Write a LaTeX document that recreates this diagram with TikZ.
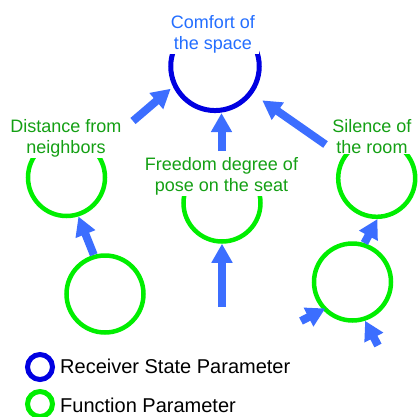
\documentclass[tikz,border=0pt]{standalone}
\usepackage{fontspec}
\setmainfont{Liberation Sans}
\usetikzlibrary{arrows.meta}
\definecolor{arrowblue}{RGB}{60,110,255}
\definecolor{labelblue}{RGB}{35,110,255}
\definecolor{ringblue}{RGB}{0,0,225}
\definecolor{ringgreen}{RGB}{0,238,0}
\definecolor{labelgreen}{RGB}{20,160,20}

\begin{document}
\begin{tikzpicture}[x=1pt,y=-1pt,
  recv/.style={circle,draw=ringblue,line width=5pt,minimum size=88.5pt,inner sep=0pt},
  func/.style={circle,draw=ringgreen,line width=4.5pt,minimum size=77pt,inner sep=0pt},
  lbl/.style={fill=white,align=center,font=\fontsize{18}{21}\selectfont,
              inner xsep=4pt,inner ysep=1pt,anchor=north},
  arr/.style={color=arrowblue,line width=8pt,-{Triangle[length=19pt,width=20pt]}},
  key/.style={circle,line width=5pt,minimum size=25pt,inner sep=0pt},
  keytext/.style={anchor=base west,font=\fontsize{20}{24}\selectfont,inner sep=0pt}]
\useasboundingbox (0,0) rectangle (418,416);

% parameter rings
\node[recv] (comfort) at (215,66.3) {};
\node[func] (distcirc) at (66.5,177.5) {};
\node[func] (freecirc) at (222,203) {};
\node[func] (silcirc) at (376.7,178.3) {};
\node[func] (blcirc) at (105,294) {};
\node[func] (brcirc) at (352.5,282) {};

% labels sit over the tops of their rings
\node[lbl,text=labelblue] (comfortlbl) at (213,14) {Comfort of\\the space};
\node[lbl,text=labelgreen] (distlbl) at (66,118) {Distance from\\neighbors};
\node[lbl,text=labelgreen] (freelbl) at (221.5,156) {Freedom degree of\\pose on the seat};
\node[lbl,text=labelgreen] (sillbl) at (372,118) {Silence of\\the room};

% free ends of the influence arrows
\coordinate (t1) at (133,121);
\coordinate (t3) at (325.5,144.5);
\coordinate (t5) at (222,307);
\coordinate (t7) at (301,321);
\coordinate (t8) at (378,345.5);

% influence arrows
\draw[arr,shorten >=3pt] (t1) -- (comfort.206);
\draw[arr,shorten <=5pt] (freelbl.north) -- (freelbl.north |- comfort.south);
\draw[arr,shorten >=11.5pt] (t3) -- (comfort.324);
\draw[arr] (blcirc.106) -- (distcirc.287);
\draw[arr] (t5) -- (freecirc.south);
\draw[arr] (brcirc.73) -- (silcirc.271);
\draw[arr,shorten >=-3pt] (t7) -- (brcirc.223);
\draw[arr] (t8) -- (brcirc.288);

% legend
\node[key,draw=ringblue] (keyrecv) at (40,367) {};
\node[key,draw=ringgreen] (keyfunc) at (40,404) {};
\node[keytext] (keyrecvtxt) at (60,373) {Receiver State Parameter};
\node[keytext] (keyfunctxt) at (60,412) {Function Parameter};
\end{tikzpicture}
\end{document}
